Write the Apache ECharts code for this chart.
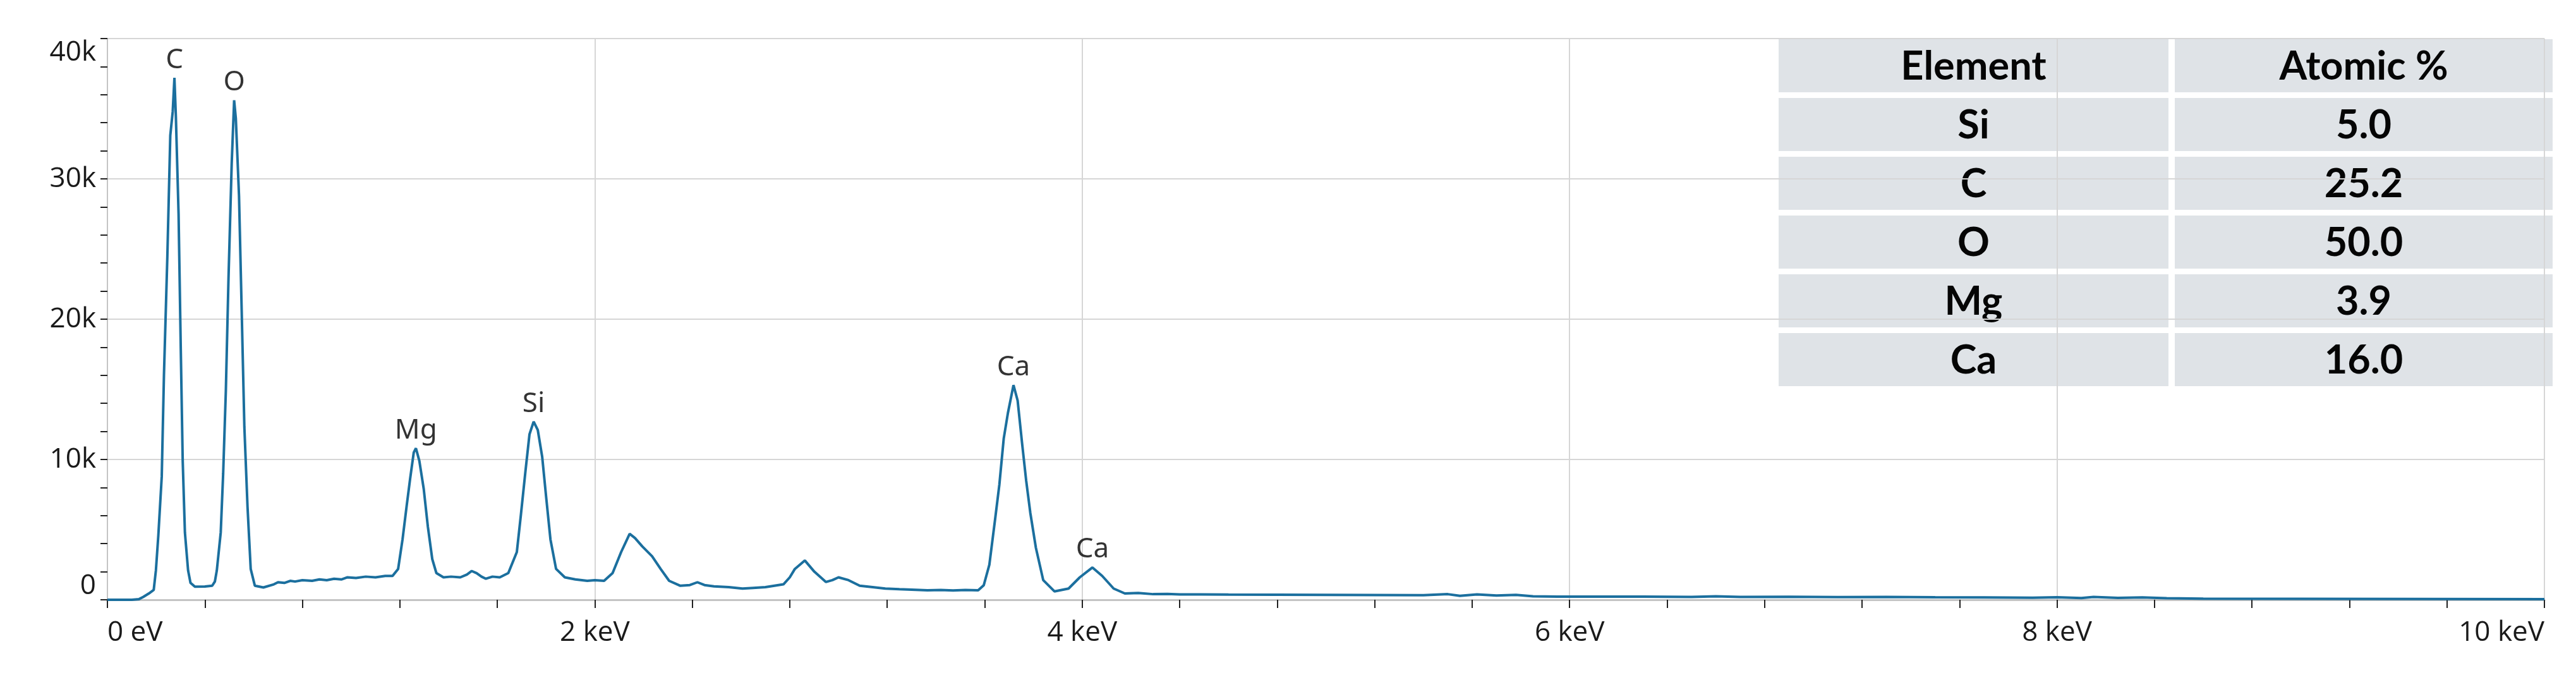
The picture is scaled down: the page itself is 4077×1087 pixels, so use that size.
<!DOCTYPE html>
<html>
<head>
<meta charset="utf-8">
<title>EDS spectrum</title>
<script src="https://cdn.jsdelivr.net/npm/echarts@6.0.0/dist/echarts.min.js"></script>
<style>
  html, body { margin: 0; padding: 0; background: #fff; }
  #chart { width: 4077px; height: 1087px; }
</style>
</head>
<body>
<div id="chart"></div>
<script>
  // spectrum, energy in keV, counts
  const energy = [
    0.00, 0.05, 0.10, 0.13, 0.147, 0.17, 0.190, 0.199, 0.209, 0.223, 0.232, 0.246, 0.258, 0.268, 0.275,
    0.281, 0.292, 0.301, 0.309, 0.318, 0.331, 0.341, 0.359, 0.40, 0.43, 0.441, 0.449, 0.465, 0.475, 0.486,
    0.497, 0.510, 0.520, 0.527, 0.540, 0.551, 0.562, 0.575, 0.588, 0.605, 0.640, 0.683, 0.70, 0.726, 0.75,
    0.77, 0.80, 0.84, 0.87, 0.90, 0.93, 0.96, 0.985, 1.02, 1.06, 1.10, 1.14, 1.170, 1.193, 1.211,
    1.228, 1.242, 1.257, 1.266, 1.280, 1.298, 1.315, 1.333, 1.350, 1.379, 1.41, 1.448, 1.475, 1.495, 1.515,
    1.535, 1.553, 1.58, 1.610, 1.645, 1.680, 1.697, 1.715, 1.732, 1.749, 1.766, 1.784, 1.801, 1.818, 1.841,
    1.877, 1.92, 1.969, 2.00, 2.038, 2.073, 2.108, 2.143, 2.165, 2.195, 2.235, 2.270, 2.305, 2.351, 2.39,
    2.421, 2.45, 2.489, 2.55, 2.606, 2.65, 2.70, 2.774, 2.80, 2.821, 2.862, 2.901, 2.948, 2.975, 3.000,
    3.041, 3.087, 3.14, 3.192, 3.25, 3.30, 3.365, 3.42, 3.47, 3.52, 3.573, 3.596, 3.619, 3.643, 3.660,
    3.678, 3.695, 3.718, 3.735, 3.753, 3.770, 3.787, 3.810, 3.840, 3.886, 3.944, 3.990, 4.042, 4.082, 4.129,
    4.175, 4.23, 4.291, 4.35, 4.40, 4.485, 4.6, 4.8, 5.0, 5.2, 5.4, 5.5, 5.55, 5.62, 5.70,
    5.78, 5.85, 5.95, 6.1, 6.3, 6.5, 6.6, 6.7, 6.9, 7.1, 7.3, 7.5, 7.7, 7.9, 8.0,
    8.1, 8.15, 8.25, 8.35, 8.45, 8.6, 9.0, 9.5, 10.0
  ];
  const counts = [
    0, 0, 0, 50, 200, 450, 700, 2100, 4600, 8800, 16000, 24500, 33100, 34800, 37200,
    34400, 27500, 17900, 9900, 4800, 2100, 1200, 930, 950, 1000, 1300, 2100, 4800, 9000, 14900,
    23000, 31100, 35600, 34300, 28800, 20600, 12300, 6600, 2200, 1000, 880, 1100, 1250, 1200, 1350,
    1300, 1400, 1350, 1450, 1400, 1500, 1450, 1600, 1550, 1650, 1600, 1700, 1700, 2200, 4300,
    6700, 8600, 10500, 10800, 9900, 7900, 5200, 2900, 1900, 1600, 1650, 1600, 1800, 2050, 1900,
    1650, 1500, 1650, 1600, 1900, 3400, 6100, 9100, 11800, 12700, 12100, 10200, 7200, 4300, 2200,
    1600, 1450, 1350, 1400, 1350, 1900, 3400, 4700, 4400, 3800, 3100, 2200, 1350, 1000, 1050,
    1250, 1050, 960, 900, 800, 850, 900, 1100, 1600, 2200, 2800, 2000, 1270, 1400, 1600,
    1400, 1000, 900, 800, 750, 720, 680, 700, 660, 700, 680, 1040, 2500, 5800, 8200,
    11500, 13300, 15300, 14200, 11200, 8500, 6200, 3700, 1400, 600, 800, 1600, 2300, 1700, 800,
    450, 480, 400, 420, 380, 380, 370, 360, 350, 340, 330, 400, 280, 380, 300,
    350, 250, 220, 220, 230, 200, 250, 200, 210, 190, 200, 180, 170, 150, 180,
    120, 200, 130, 170, 110, 80, 70, 60, 50
  ];

  // peak labels
  const peakNames = ['C', 'O', 'Mg', 'Si', 'Ca', 'Ca'];
  const peakEnergy = [0.275, 0.520, 1.266, 1.749, 3.718, 4.042];
  const peakCounts = [37200, 35600, 10800, 12700, 15300, 2300];

  // inset table
  const tableHeader = ['Element', 'Atomic %'];
  const tableElements = ['Si', 'C', 'O', 'Mg', 'Ca'];
  const tableAtomic = ['5.0', '25.2', '50.0', '3.9', '16.0'];

  const chart = echarts.init(document.getElementById('chart'));

  const lineData = energy.map((e, i) => [e, counts[i]]);
  const peakData = peakNames.map((n, i) => ({ name: n, value: [peakEnergy[i], peakCounts[i]] }));

  // table cells as graphic elements
  const rows = [tableHeader].concat(tableElements.map((el, i) => [el, tableAtomic[i]]));
  const cols = [{ x: 2815, w: 617 }, { x: 3442, w: 598 }];
  const tableChildren = [];
  rows.forEach((row, r) => {
    const top = 62 + r * 93;
    cols.forEach((c, k) => {
      tableChildren.push({
        type: 'rect',
        shape: { x: c.x, y: top, width: c.w, height: 84 },
        style: { fill: '#dfe3e7' }
      });
      tableChildren.push({
        type: 'text',
        x: c.x + c.w / 2,
        y: top + 44,
        style: {
          text: row[k],
          align: 'center',
          verticalAlign: 'middle',
          textAlign: 'center',
          textVerticalAlign: 'middle',
          fontFamily: 'Lato',
          fontWeight: 'bold',
          fontSize: 63,
          fill: '#050505'
        }
      });
    });
  });

  chart.setOption({
    animation: false,
    backgroundColor: '#ffffff',
    grid: {
      left: 170,
      right: 50,
      top: 61,
      bottom: 138
    },
    xAxis: {
      type: 'value',
      min: 0,
      max: 10,
      interval: 2,
      axisLine: { show: true, lineStyle: { color: '#c4c4c4', width: 3 } },
      axisTick: { show: true, length: 13, lineStyle: { color: '#222', width: 2 } },
      minorTick: { show: true, splitNumber: 5, length: 13, lineStyle: { color: '#222', width: 2 } },
      splitLine: { show: true, lineStyle: { color: '#d6d6d6', width: 2 } },
      axisLabel: {
        margin: 30,
        fontSize: 44,
        fontFamily: 'Open Sans',
        color: '#1a1a1a',
        alignMinLabel: 'left',
        alignMaxLabel: 'right',
        formatter: function (v) {
          return v === 0 ? '0 eV' : v + ' keV';
        }
      }
    },
    yAxis: {
      type: 'value',
      min: 0,
      max: 40000,
      interval: 10000,
      axisLine: { show: true, lineStyle: { color: '#c4c4c4', width: 2 } },
      axisTick: { show: true, length: 11, lineStyle: { color: '#222', width: 2 } },
      minorTick: { show: true, splitNumber: 5, length: 11, lineStyle: { color: '#222', width: 2 } },
      splitLine: { show: true, lineStyle: { color: '#d6d6d6', width: 2 } },
      axisLabel: {
        margin: 18,
        fontSize: 44,
        fontFamily: 'Open Sans',
        color: '#1a1a1a',
        verticalAlignMinLabel: 'bottom',
        verticalAlignMaxLabel: 'top',
        formatter: function (v) {
          return v === 0 ? '0' : (v / 1000) + 'k';
        }
      }
    },
    series: [
      {
        type: 'line',
        data: lineData,
        showSymbol: false,
        lineStyle: { color: '#1b6f9e', width: 4 },
        z: 3
      },
      {
        type: 'scatter',
        data: peakData,
        symbolSize: 2,
        itemStyle: { color: 'rgba(0,0,0,0)' },
        label: {
          show: true,
          position: 'top',
          distance: 5,
          formatter: '{b}',
          fontSize: 44,
          fontFamily: 'Noto Sans',
          color: '#000'
        },
        emphasis: { disabled: true },
        z: 4
      }
    ],
    graphic: [{
      type: 'group',
      z: 100,
      children: tableChildren
    }]
  });

  window.addEventListener('resize', () => {
    chart.resize();
  });
</script>
</body>
</html>
